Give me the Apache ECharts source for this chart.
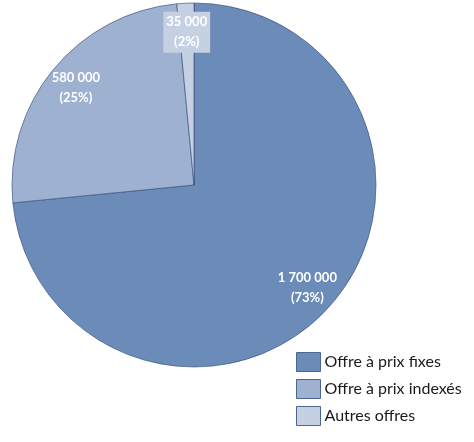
<!DOCTYPE html>
<html>
<head>
<meta charset="utf-8">
<script src="https://cdn.jsdelivr.net/npm/echarts@6/dist/echarts.min.js"></script>
<style>
  html, body { margin: 0; padding: 0; background: #fff; }
  #main { width: 474px; height: 442px; }
</style>
</head>
<body>
<div id="main"></div>
<script>
// données
var categories = ['Offre à prix fixes', 'Offre à prix indexés', 'Autres offres'];
var values = [1700000, 580000, 35000];
var colors = ['#6b8bb9', '#9eb1d1', '#c5d0e3'];

function fmt(v) {
    return String(v).replace(/\B(?=(\d{3})+(?!\d))/g, ' ');
}

var chart = echarts.init(document.getElementById('main'));

var pieData = categories.map(function (name, i) {
    return { name: name, value: values[i], itemStyle: { color: colors[i] } };
});

// anneau invisible, juste pour placer les étiquettes près du bord comme Excel
var labelData = categories.map(function (name, i) {
    var lab = {};
    if (i === 2) {
        lab = { backgroundColor: colors[i], padding: [1, 3, 0, 3] };
    }
    return { name: name, value: values[i], itemStyle: { color: 'rgba(0,0,0,0)' }, label: lab };
});

var option = {
    animation: false,
    legend: {
        orient: 'vertical',
        left: 296,
        top: 352,
        padding: 0,
        itemWidth: 24,
        itemHeight: 19,
        itemGap: 7,
        icon: 'rect',
        itemStyle: { borderColor: '#4a6690', borderWidth: 1 },
        textStyle: { fontFamily: 'Lato', fontSize: 16, color: '#1a1a1a', padding: [0, 0, 0, -1] },
        data: categories
    },
    series: [
        {
            type: 'pie',
            center: [194, 185],
            radius: 182,
            startAngle: 90,
            clockwise: true,
            silent: true,
            itemStyle: { borderColor: 'rgba(45,70,115,0.75)', borderWidth: 0.8 },
            label: { show: false },
            labelLine: { show: false },
            data: pieData
        },
        {
            type: 'pie',
            center: [194, 185],
            radius: [118, 182],
            startAngle: 90,
            clockwise: true,
            silent: true,
            legendHoverLink: false,
            label: {
                show: true,
                position: 'inside',
                color: '#fff',
                fontFamily: 'Lato',
                fontWeight: 'bold',
                fontSize: 13,
                lineHeight: 20,
                formatter: function (p) {
                    return fmt(p.value) + '\n(' + Math.round(p.percent) + '%)';
                }
            },
            labelLine: { show: false },
            data: labelData
        }
    ]
};

chart.setOption(option);
</script>
</body>
</html>
